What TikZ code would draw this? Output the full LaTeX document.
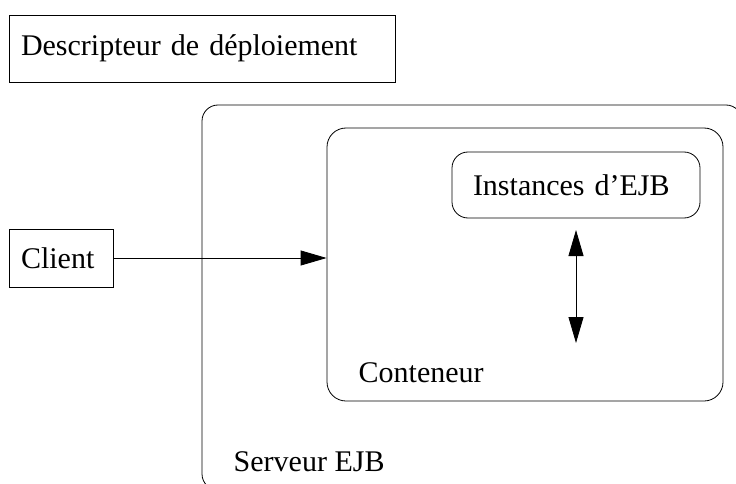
\documentclass[tikz,border=0pt]{standalone}
\usepackage{fontspec}
\setmainfont{Liberation Serif}
\usetikzlibrary{arrows.meta}
\begin{document}
\begin{tikzpicture}[x=1pt,y=-1pt,line width=0.8pt,>={Triangle[length=26pt,width=15pt]},
  box/.style={draw, rectangle, inner ysep=0pt, inner xsep=12pt, align=left},
  rbox/.style={draw, rectangle, rounded corners=16pt, inner sep=0pt},
  lbl/.style={font=\fontsize{30}{36}\selectfont}]
  \useasboundingbox (0,0) rectangle (736,484);
  \clip (0,0) rectangle (736,484);

  \node[box, lbl, text width=362pt, minimum height=67pt] (desc) at (202,48.5) {Descripteur de déploiement};

  \node[rbox, minimum width=540pt, minimum height=385pt] (serveur) at (472,297.5) {};
  \node[rbox, rounded corners=19pt, minimum width=396pt, minimum height=273pt] (conteneur) at (525,264.5) {};
  \node[rbox, lbl, inner xsep=21pt, text width=206pt, minimum height=66pt, align=left] (instances) at (576,185) {Instances d’EJB};
  \node[box, lbl, text width=80pt, minimum height=58pt] (client) at (61,258) {Client};

  \node[lbl, anchor=west] (contlbl) at (355,373) {Conteneur};
  \node[lbl, anchor=west] (servlbl) at (230,462) {Serveur EJB};

  \coordinate (haut) at (576,230);
  \coordinate (bas) at (576,343);

  \draw[->] (client.east) -- (client.east -| conteneur.west);
  \draw[<->] (haut) -- (bas);
\end{tikzpicture}
\end{document}
